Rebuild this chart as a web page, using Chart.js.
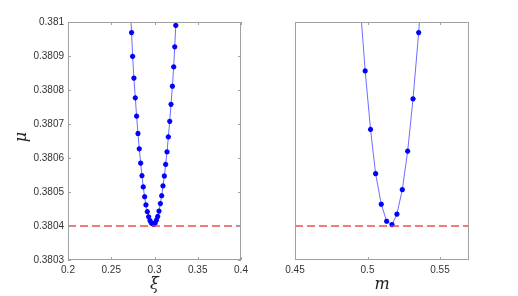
<!DOCTYPE html>
<html>
<head>
<meta charset="utf-8">
<script src="https://cdn.jsdelivr.net/npm/chart.js@4"></script>
<style>
html, body { margin: 0; padding: 0; background: #fff; }
#wrap { position: relative; width: 518px; height: 296px; }
#left { position: absolute; left: 0; top: 0; }
#right { position: absolute; left: 260px; top: 0; }
</style>
</head>
<body>
<div id="wrap">
  <canvas id="left" width="260" height="296"></canvas>
  <canvas id="right" width="258" height="296"></canvas>
</div>
<script>
// left panel: mu against xi
const xiValues = [0.2720, 0.2735, 0.2747, 0.2762, 0.2778, 0.2793, 0.2809, 0.2824, 0.2840, 0.2855,
    0.2870, 0.2886, 0.2901, 0.2917, 0.2932, 0.2948, 0.2963, 0.2979, 0.2994, 0.3008,
    0.3022, 0.3037, 0.3052, 0.3068, 0.3083, 0.3098, 0.3114, 0.3129, 0.3145, 0.3160,
    0.3176, 0.3191, 0.3207, 0.3222, 0.3234, 0.3246, 0.3261];
const muByXi = [0.381044, 0.380969, 0.380899, 0.380835, 0.380777, 0.380723, 0.380672, 0.380627, 0.380585, 0.380548,
    0.380515, 0.380486, 0.380462, 0.380442, 0.380427, 0.380416, 0.380409, 0.380406, 0.380405, 0.380409,
    0.380417, 0.380428, 0.380444, 0.380466, 0.380489, 0.380518, 0.380547, 0.380581, 0.380618, 0.380662,
    0.380708, 0.380758, 0.380811, 0.380868, 0.380927, 0.380990, 0.381055];

// right panel: mu against m
const mValues = [0.4947, 0.4984, 0.5021, 0.5056, 0.5095, 0.5132, 0.5169, 0.5203, 0.5240, 0.5277, 0.5314, 0.5353, 0.5390];
const muByM = [0.381066, 0.380856, 0.380684, 0.380554, 0.380464, 0.380414, 0.380404, 0.380435, 0.380507, 0.380620, 0.380774, 0.380969, 0.381204];

const refMu = 0.3804;

const muRange = [0.3803, 0.381];
const xiRange = [0.2, 0.4];
const mRange = [0.45, 0.57];

const muTicks = [0.3803, 0.3804, 0.3805, 0.3806, 0.3807, 0.3808, 0.3809, 0.381];
const muTickLabels = ['0.3803', '0.3804', '0.3805', '0.3806', '0.3807', '0.3808', '0.3809', '0.381'];
const xiTicks = [0.2, 0.25, 0.3, 0.35, 0.4];
const xiTickLabels = ['0.2', '0.25', '0.3', '0.35', '0.4'];
const mTicks = [0.45, 0.5, 0.55];
const mTickLabels = ['0.45', '0.5', '0.55'];

const tickFont = { family: 'Liberation Sans, Arial, sans-serif', size: 10 };
const mathFont = { family: 'DejaVu Serif, serif', style: 'italic', size: 16 };

// matlab style box with inward ticks
const boxTicks = {
    id: 'boxTicks',
    afterDatasetsDraw(chart, args, opts) {
        const { ctx, chartArea: a, scales } = chart;
        ctx.save();
        ctx.strokeStyle = '#a0a0a0';
        ctx.lineWidth = 1;
        ctx.strokeRect(a.left + 0.5, a.top + 0.5, a.right - a.left - 1, a.bottom - a.top - 1);
        ctx.beginPath();
        scales.x.ticks.forEach(t => {
            const px = Math.round(scales.x.getPixelForValue(t.value)) + 0.5;
            ctx.moveTo(px, a.bottom); ctx.lineTo(px, a.bottom - 3);
            ctx.moveTo(px, a.top); ctx.lineTo(px, a.top + 3);
        });
        if (opts.yTicks) {
            scales.y.ticks.forEach(t => {
                const py = Math.round(scales.y.getPixelForValue(t.value)) + 0.5;
                ctx.moveTo(a.left, py); ctx.lineTo(a.left + 3, py);
                ctx.moveTo(a.right, py); ctx.lineTo(a.right - 3, py);
            });
        }
        ctx.stroke();
        ctx.restore();
    }
};

function makePanel(id, xs, ys, xRange, xTicks, xLabels, xTitle, showY, padRight, yWidth) {
    return new Chart(document.getElementById(id), {
        type: 'scatter',
        data: {
            datasets: [{
                data: [{ x: xRange[0], y: refMu }, { x: xRange[1], y: refMu }],
                showLine: true,
                borderColor: 'rgba(240,60,60,0.9)',
                borderWidth: 1.5,
                borderDash: [8, 4],
                pointRadius: 0
            }, {
                data: xs.map((x, i) => ({ x: x, y: ys[i] })),
                showLine: true,
                borderColor: 'rgba(60,60,255,0.75)',
                borderWidth: 1,
                pointStyle: 'star',
                pointRadius: 2.6,
                pointBorderWidth: 1.6,
                pointBorderColor: '#0000ff',
                pointBackgroundColor: '#0000ff'
            }]
        },
        options: {
            responsive: false,
            animation: false,
            layout: { padding: { top: 22, right: padRight, left: 0, bottom: 0 } },
            plugins: {
                legend: { display: false },
                tooltip: { enabled: false },
                boxTicks: { yTicks: showY }
            },
            scales: {
                x: {
                    type: 'linear',
                    min: xRange[0],
                    max: xRange[1],
                    afterBuildTicks: s => { s.ticks = xTicks.map(v => ({ value: v })); },
                    afterFit: s => { s.height = 36; },
                    grid: { display: false, drawTicks: false },
                    border: { display: false },
                    ticks: {
                        font: tickFont,
                        color: '#333',
                        padding: 4,
                        maxRotation: 0,
                        callback: (v, i) => xLabels[i]
                    },
                    title: { display: true, text: xTitle, font: mathFont, color: '#222', padding: { top: 0, bottom: 2 } }
                },
                y: {
                    type: 'linear',
                    min: muRange[0],
                    max: muRange[1],
                    afterBuildTicks: s => { s.ticks = muTicks.map(v => ({ value: v })); },
                    afterFit: s => { s.width = yWidth; },
                    grid: { display: false, drawTicks: false },
                    border: { display: false },
                    ticks: {
                        display: showY,
                        font: tickFont,
                        color: '#333',
                        padding: 4,
                        callback: (v, i) => muTickLabels[i]
                    },
                    title: { display: showY, text: '\u2002μ', font: mathFont, color: '#222', padding: { top: 12, bottom: 0 } }
                }
            }
        },
        plugins: [boxTicks]
    });
}

makePanel('left', xiValues, muByXi, xiRange, xiTicks, xiTickLabels, 'ξ', true, 19, 68);
makePanel('right', mValues, muByM, mRange, mTicks, mTickLabels, 'm', false, 49, 35);
</script>
</body>
</html>
